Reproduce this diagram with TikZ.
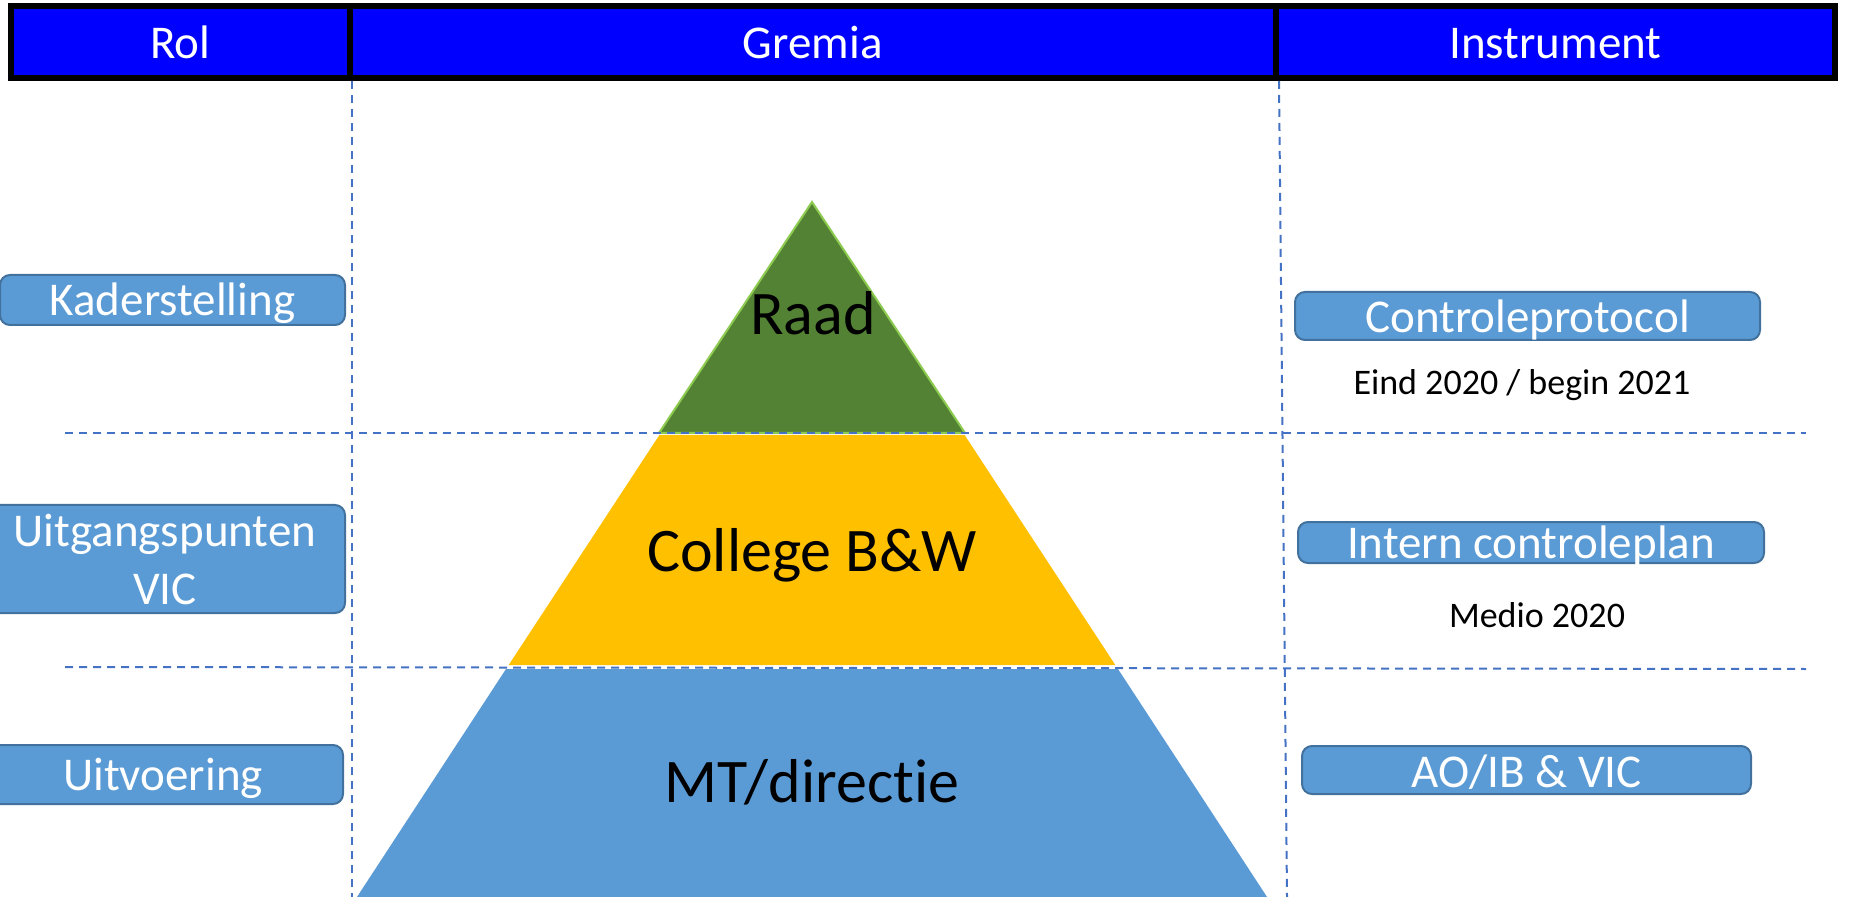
\documentclass[tikz,border=0pt]{standalone}
\usepackage{fontspec}
\setmainfont[Ligatures=NoCommon]{Carlito}
\definecolor{hdrblue}{HTML}{0000FF}
\definecolor{pyrblue}{HTML}{5B9BD5}
\definecolor{boxline}{HTML}{41719C}
\definecolor{dashline}{HTML}{4472C4}
\definecolor{raadgreen}{HTML}{548235}
\definecolor{raadedge}{HTML}{8CCB4F}
\definecolor{collyellow}{HTML}{FFC000}
\begin{document}
\begin{tikzpicture}[x=0.5pt,y=-0.5pt,
  hdr/.style={draw=black, line width=3pt, fill=hdrblue, text=white, minimum height=35.85pt,
    inner sep=0pt, text height=16pt, text depth=0pt, font=\fontsize{23.5}{28}\selectfont},
  rolebase/.style={draw=boxline, line width=1pt, fill=pyrblue, rounded corners=5pt, text=white,
    inner sep=0pt, font=\fontsize{23.5}{29}\selectfont},
  rolebox/.style={rolebase, text height=15.5pt, text depth=0pt},
  divider/.style={draw=dashline, line width=1pt, dash pattern=on 4pt off 3pt},
  pyrlabel/.style={anchor=base, inner sep=0pt, font=\fontsize{31}{37}\selectfont},
  datelabel/.style={anchor=base, inner sep=0pt, font=\fontsize{18}{22}\selectfont}]
\useasboundingbox (0,0) rectangle (1851,897);

% pyramid
\filldraw[fill=raadgreen, draw=raadedge, line width=1pt] (812,202) -- (965,433) -- (659,433) -- cycle;
\fill[collyellow] (659.4,435) -- (964.6,435) -- (1115.3,665) -- (508.7,665) -- cycle;
\fill[pyrblue] (506,669) -- (1118,669) -- (1269,900) -- (355,900) -- cycle;

% header
\node[hdr, minimum width=169.25pt] (rol) at (180.25,42.15) {Rol};
\node[hdr, minimum width=463.25pt] (gremia) at (812.75,42.15) {Gremia};
\node[hdr, minimum width=279.5pt] (instr) at (1555.5,42.15) {Instrument};

% dashed grid
\coordinate (vl1) at (352,81);
\coordinate (vl2) at (352,897);
\coordinate (vr1) at (1279,81);
\coordinate (vr2) at (1287,897);
\coordinate (h1a) at (65,433);
\coordinate (h1b) at (1806,433);
\coordinate (h2a) at (65,667);
\coordinate (h2b) at (1806,669);
\draw[divider] (vl1) -- (vl2);
\draw[divider] (vr1) -- (vr2);
\draw[divider] (h1a) -- (h1b);
\draw[divider] (h2a) -- (h2b);

% pyramid labels
\node[pyrlabel] (raad) at (813,335) {Raad};
\node[pyrlabel] (college) at (812,571) {College B\&W};
\node[pyrlabel] (mt) at (812,802) {MT/directie};

% role boxes
\node[rolebox, minimum width=172.5pt, minimum height=25pt] (kader) at (172.5,300) {Kaderstelling};
\node[rolebase, minimum width=180pt, minimum height=54pt, align=center] (uitg) at (165,559) {Uitgangspunten\\VIC};
\node[rolebox, minimum width=180pt, minimum height=29.5pt] (uitv) at (163,774.5) {Uitvoering};

% instrument boxes
\node[rolebox, minimum width=232.5pt, minimum height=24pt, text height=17pt] (cprot) at (1527.5,316) {Controleprotocol};
\node[datelabel] (eind) at (1522,395) {Eind 2020 / begin 2021};
\node[rolebox, minimum width=233pt, minimum height=20.5pt] (icp) at (1531,542.5) {Intern controleplan};
\node[datelabel] (medio) at (1537,627) {Medio 2020};
\node[rolebox, minimum width=224.5pt, minimum height=24pt, text height=17pt] (aoib) at (1526.5,770) {AO/IB \& VIC};
\end{tikzpicture}
\end{document}
